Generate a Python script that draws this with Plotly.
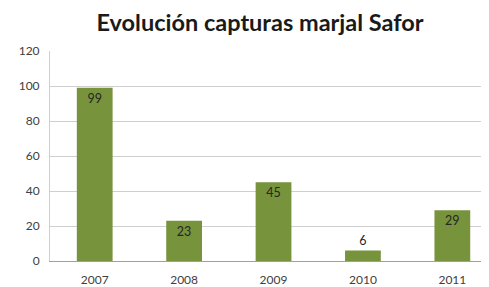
import plotly.graph_objects as go

years = ["2007", "2008", "2009", "2010", "2011"]
capturas = [99, 23, 45, 6, 29]
y_ticks = [0, 20, 40, 60, 80, 100, 120]

FONT = "Lato, Open Sans, sans-serif"

fig = go.Figure(go.Bar(
    x=years, y=capturas,
    marker=dict(color="#77933C", line=dict(width=0)),
    text=[str(v) for v in capturas],
    textposition="auto",
    insidetextanchor="end",
    textangle=0,
    constraintext="none",
    textfont=dict(family=FONT, size=12.5, color="#262626"),
    cliponaxis=False,
))

# page body has an 8px margin, so the figure is sized to fit the 489x287 window
fig.update_layout(
    width=481, height=279,
    margin=dict(l=42, r=0, t=43, b=26, autoexpand=False),
    paper_bgcolor="white", plot_bgcolor="white",
    bargap=0.6,
    showlegend=False,
    title=dict(text="<b>Evolución capturas marjal Safor</b>",
               x=0.524, xanchor="center", y=0.948, yanchor="middle",
               font=dict(family=FONT, size=23.5, color="#1a1a1a")),
    xaxis=dict(type="category", range=[-0.5, 4.41], showgrid=False,
               showline=True, linecolor="#a0a0a0", linewidth=1,
               ticks="", ticklabelstandoff=8, automargin=False,
               tickfont=dict(family=FONT, size=12, color="#404040")),
    yaxis=dict(range=[0, 120], tickvals=y_ticks, showgrid=True, gridcolor="#cfcfcf",
               gridwidth=1, zeroline=False, showline=True, linecolor="#cfcfcf",
               ticks="", ticklabelstandoff=7, automargin=False,
               tickfont=dict(family=FONT, size=12, color="#404040")),
    font=dict(family=FONT),
)

fig.write_html("out.html")
